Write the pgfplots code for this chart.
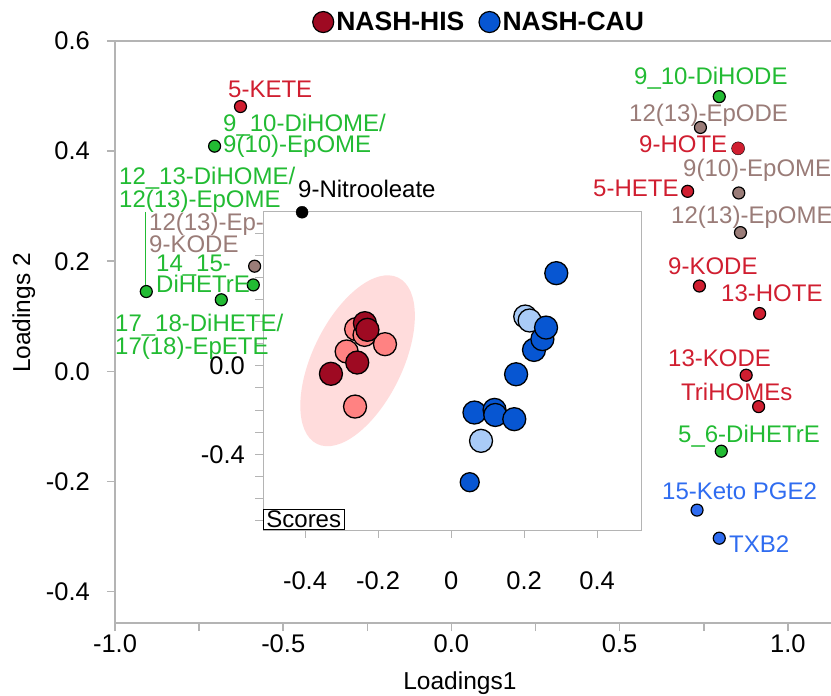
\documentclass[border=0pt]{standalone}
\usepackage{fontspec}
\setmainfont{Liberation Sans}
\usepackage{pgfplots}
\pgfplotsset{compat=1.18}
\usetikzlibrary{shapes.geometric}
\definecolor{axgray}{RGB}{180,180,180}
\definecolor{darkred}{RGB}{158,10,34}
\definecolor{lightred}{RGB}{255,130,130}
\definecolor{darkblue}{RGB}{7,86,210}
\definecolor{lightblue}{RGB}{169,203,247}
\definecolor{ellpink}{RGB}{255,220,220}
\definecolor{labred}{RGB}{208,30,48}
\definecolor{labgreen}{RGB}{34,187,51}
\definecolor{labbrown}{RGB}{154,124,120}
\definecolor{labblue}{RGB}{47,108,240}
\newcommand{\lf}{\fontsize{24bp}{22bp}\selectfont}
\begin{document}
\begin{tikzpicture}
\path[use as bounding box] (-115bp,-73bp) rectangle (716bp,623bp);
% inset (scores)
\begin{axis}[
 at={(148bp,93bp)}, anchor=south west,
 scale only axis, width=378bp, height=319bp,
 xmin=-0.515, xmax=0.52, ymin=-0.742, ymax=0.70,
 axis background/.style={fill=white},
 axis line style={draw=axgray, line width=1bp},
 tick style={draw=axgray, line width=1bp},
 tick align=outside, major tick length=8bp, minor tick length=8bp,
 xtick={-0.4,-0.2,0,0.2,0.4}, xticklabels={-0.4,-0.2,0,0.2,0.4},
 ytick={-0.4,0}, yticklabels={-0.4,0.0},
 minor ytick={-0.7,-0.6,-0.5,-0.3,-0.2,-0.1,0.1,0.2,0.3,0.4,0.5,0.6},
 xtick pos=bottom, ytick pos=left,
 ticklabel style={font=\fontsize{25.5bp}{28bp}\selectfont, inner sep=0pt},
 xticklabel style={anchor=north, yshift=-33bp},
 yticklabel style={anchor=east, xshift=-10bp},
 clip=false,
]
\node[ellipse, fill=ellpink, draw=none, minimum width=185bp, minimum height=90bp, inner sep=0pt, rotate=64] at (axis cs:-0.256,0.023) {};
\addplot[only marks, mark=*, mark size=11.5bp, mark options={fill=lightred, draw=black, line width=1.3bp}] coordinates {
 (-0.260,0.166) (-0.237,0.140) (-0.181,0.098) (-0.286,0.065) (-0.263,-0.184)};
\addplot[only marks, mark=*, mark size=11.5bp, mark options={fill=darkred, draw=black, line width=1.3bp}] coordinates {
 (-0.236,0.193) (-0.229,0.163) (-0.257,0.015) (-0.329,-0.036)};
\addplot[only marks, mark=*, mark size=11.5bp, mark options={fill=lightblue, draw=black, line width=1.3bp}] coordinates {
 (0.203,0.223) (0.215,0.205) (0.082,-0.339)};
\addplot[only marks, mark=*, mark size=11.5bp, mark options={fill=darkblue, draw=black, line width=1.3bp}] coordinates {
 (0.288,0.419) (0.227,0.072) (0.250,0.121) (0.260,0.173) (0.178,-0.038)
 (0.064,-0.211) (0.119,-0.199) (0.121,-0.222) (0.173,-0.241)};
\addplot[only marks, mark=*, mark size=9.5bp, mark options={fill=darkblue, draw=black, line width=1.3bp}] coordinates {
 (0.051,-0.526)};
\node[draw=black, line width=0.8bp, fill=white, anchor=south west, inner xsep=3bp, inner ysep=1.5bp, font=\fontsize{24bp}{26bp}\selectfont] at (rel axis cs:0,0) {Scores};
\end{axis}
% main axis (loadings)
\begin{axis}[
 at={(0,0)}, anchor=south west,
 scale only axis, width=720bp, height=582bp,
 xmin=-1, xmax=1.14, ymin=-0.457, ymax=0.6,
 axis line style={draw=axgray, line width=1.5bp},
 tick style={draw=axgray, line width=1.5bp},
 tick align=outside,
 major tick length=8bp, minor tick length=8bp,
 xtick={-1,-0.5,0,0.5,1}, xticklabels={-1.0,-0.5,0.0,0.5,1.0},
 minor xtick={-0.75,-0.25,0.25,0.75},
 ytick={-0.4,-0.2,0,0.2,0.4,0.6}, yticklabels={-0.4,-0.2,0.0,0.2,0.4,0.6},
 xtick pos=bottom, ytick pos=left,
 ticklabel style={font=\fontsize{25.5bp}{28bp}\selectfont, inner sep=0pt},
 xticklabel style={anchor=north, yshift=-3bp},
 yticklabel style={anchor=east, xshift=-17bp},
 xlabel={Loadings1}, ylabel={Loadings 2},
 label style={font=\fontsize{24.5bp}{28bp}\selectfont, inner sep=0pt},
 xlabel style={at={(axis description cs:0.479,-0.1151)}, anchor=base},
 ylabel style={at={(axis description cs:-0.118,0.5326)}, anchor=base},
 legend style={at={(0.5056,1.0326)}, anchor=center, draw=none, fill=none,
   font=\bfseries\fontsize{26.5bp}{30bp}\selectfont, legend columns=2,
   /tikz/every even column/.append style={column sep=12bp},
   nodes={inner xsep=2bp}},
 legend cell align=left,
 clip=false,
]
\addlegendimage{legend image code/.code={\draw[draw=black,line width=1.2bp,fill=darkred] (10.5bp,0bp) circle (10.5bp);}}
\addlegendentry{NASH-HIS}
\addlegendimage{legend image code/.code={\draw[draw=black,line width=1.2bp,fill=darkblue] (10.5bp,0bp) circle (10.5bp);}}
\addlegendentry{NASH-CAU}
% red with outline
\addplot[only marks, mark=*, mark size=6bp, mark options={fill=labred, draw=black, line width=1.2bp}, forget plot] coordinates {
 (-0.627,0.481) (0.702,0.327) (0.737,0.155) (0.916,0.105) (0.876,-0.007) (0.913,-0.064)};
% red without outline
\addplot[only marks, mark=*, mark size=6.5bp, mark options={fill=labred, draw=none}, forget plot] coordinates {
 (0.852,0.405)};
% green
\addplot[only marks, mark=*, mark size=6bp, mark options={fill=labgreen, draw=black, line width=1.2bp}, forget plot] coordinates {
 (-0.704,0.409) (-0.907,0.145) (-0.684,0.130) (-0.589,0.157) (0.796,0.499) (0.802,-0.145)};
% brown
\addplot[only marks, mark=*, mark size=6bp, mark options={fill=labbrown, draw=black, line width=1.2bp}, forget plot] coordinates {
 (-0.585,0.191) (0.740,0.443) (0.854,0.324) (0.859,0.252)};
% blue
\addplot[only marks, mark=*, mark size=6bp, mark options={fill=labblue, draw=black, line width=1.2bp}, forget plot] coordinates {
 (0.730,-0.252) (0.796,-0.303)};
% black
\addplot[only marks, mark=*, mark size=6bp, mark options={fill=black, draw=black}, forget plot] coordinates {
 (-0.444,0.289)};
\end{axis}
% labels (picture coordinates, bp)
\begin{scope}[every node/.style={inner sep=0pt, anchor=base west, font=\lf}]
\node[labred] at (113bp,525bp) {5-KETE};
\node[labgreen] at (108bp,491bp) {9\_10-DiHOME/};
\node[labgreen] at (108bp,470bp) {9(10)-EpOME};
\node[labgreen] at (4bp,438bp) {12\_13-DiHOME/};
\node[labgreen] at (4bp,415bp) {12(13)-EpOME};
\node[labbrown] at (34bp,392bp) {12(13)-Ep-};
\node[labbrown] at (34bp,370bp) {9-KODE};
\node[labgreen] at (41bp,351bp) {14\_15-};
\node[labgreen] at (41bp,330bp) {DiHETrE};
\node[labgreen] at (0bp,291bp) {17\_18-DiHETE/};
\node[labgreen] at (0bp,268bp) {17(18)-EpETE};
\node[black] at (183bp,425bp) {9-Nitrooleate};
\node[labgreen] at (519bp,538bp) {9\_10-DiHODE};
\node[labbrown] at (514bp,501bp) {12(13)-EpODE};
\node[labred] at (524bp,470bp) {9-HOTE};
\node[labbrown] at (568bp,446bp) {9(10)-EpOME};
\node[labred] at (478bp,426bp) {5-HETE};
\node[labbrown] at (556bp,399bp) {12(13)-EpOME};
\node[labred] at (553bp,348bp) {9-KODE};
\node[labred] at (606bp,321bp) {13-HOTE};
\node[labred] at (553bp,256bp) {13-KODE};
\node[labred] at (566bp,222bp) {TriHOMEs};
\node[labgreen] at (563bp,180bp) {5\_6-DiHETrE};
\node[labblue] at (547bp,123bp) {15-Keto PGE2};
\node[labblue] at (614bp,70bp) {TXB2};
\end{scope}
\draw[labgreen, line width=1bp] (30bp,411bp) -- (30bp,338bp);
\end{tikzpicture}
\end{document}
